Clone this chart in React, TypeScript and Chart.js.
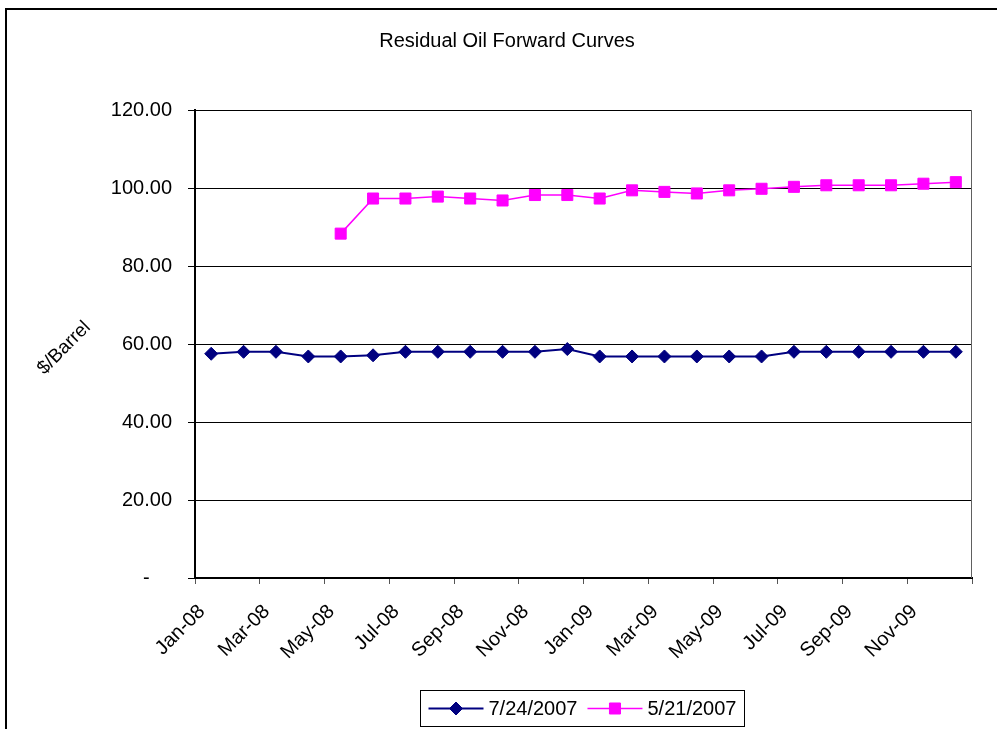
import React, { useEffect, useRef } from 'react';
import { Chart, registerables } from 'chart.js';

Chart.register(...registerables);

const TITLE = 'Residual Oil Forward Curves';
const Y_TITLE = '$/Barrel';

const months = [
  'Jan-08', 'Feb-08', 'Mar-08', 'Apr-08', 'May-08', 'Jun-08',
  'Jul-08', 'Aug-08', 'Sep-08', 'Oct-08', 'Nov-08', 'Dec-08',
  'Jan-09', 'Feb-09', 'Mar-09', 'Apr-09', 'May-09', 'Jun-09',
  'Jul-09', 'Aug-09', 'Sep-09', 'Oct-09', 'Nov-09', 'Dec-09',
];

const series1Label = '7/24/2007';
const series1 = [
  57.5, 58.0, 58.0, 56.8, 56.8, 57.1, 58.0, 58.0, 58.0, 58.0, 58.0, 58.7,
  56.8, 56.8, 56.8, 56.8, 56.8, 56.8, 58.0, 58.0, 58.0, 58.0, 58.0, 58.0,
];

const series2Label = '5/21/2007';
const series2: (number | null)[] = [
  null, null, null, null, 88.3, 97.3, 97.3, 97.8, 97.3, 96.8, 98.2, 98.2,
  97.3, 99.4, 99.0, 98.6, 99.4, 99.8, 100.3, 100.7, 100.7, 100.7, 101.1, 101.5,
];

const yTickValues = [0, 20, 40, 60, 80, 100, 120];
// x tick marks sit on month boundaries, every second month
const xTickMonthIndices = [0, 2, 4, 6, 8, 10, 12, 14, 16, 18, 20, 22, 24];

const FONT = '"Liberation Sans", Arial, Helvetica, sans-serif';

function drawMarker(ctx: CanvasRenderingContext2D, style: string, x: number, y: number, r: number, color: string) {
  ctx.save();
  ctx.fillStyle = color;
  ctx.strokeStyle = color;
  ctx.lineWidth = 1;
  ctx.beginPath();
  if (style === 'rectRot') {
    ctx.moveTo(x - r, y);
    ctx.lineTo(x, y - r);
    ctx.lineTo(x + r, y);
    ctx.lineTo(x, y + r);
    ctx.closePath();
  } else {
    const s = Math.SQRT1_2 * r;
    ctx.rect(x - s, y - s, 2 * s, 2 * s);
  }
  ctx.fill();
  ctx.stroke();
  ctx.restore();
}

const decorPlugin = {
  id: 'decor',
  beforeDraw(chart: any) {
    const ctx = chart.ctx as CanvasRenderingContext2D;
    ctx.save();
    ctx.fillStyle = '#ffffff';
    ctx.fillRect(0, 0, chart.width, chart.height);
    ctx.restore();
  },
  afterDraw(chart: any) {
    const ctx = chart.ctx as CanvasRenderingContext2D;
    const area = chart.chartArea;
    ctx.save();

    // outer chart frame (left and top edges visible)
    ctx.strokeStyle = '#000';
    ctx.lineWidth = 2;
    ctx.beginPath();
    ctx.moveTo(6, chart.height + 4);
    ctx.lineTo(6, 9);
    ctx.lineTo(997, 9);
    ctx.stroke();

    // plot area right border
    ctx.strokeStyle = '#606060';
    ctx.lineWidth = 1;
    ctx.beginPath();
    const rx = Math.round(area.right) - 0.5;
    ctx.moveTo(rx, area.top);
    ctx.lineTo(rx, area.bottom);
    ctx.stroke();

    // title
    ctx.fillStyle = '#000';
    ctx.font = `20px ${FONT}`;
    ctx.textAlign = 'center';
    ctx.textBaseline = 'middle';
    ctx.fillText(TITLE, 507, 41);

    // y-axis title, rotated diagonally
    ctx.save();
    ctx.translate(64, 348);
    ctx.rotate(-Math.PI / 4);
    ctx.font = `19px ${FONT}`;
    ctx.textAlign = 'center';
    ctx.textBaseline = 'middle';
    ctx.fillText(Y_TITLE, 0, 0);
    ctx.restore();

    // legend
    const datasets = chart.data.datasets;
    ctx.font = `20px ${FONT}`;
    const sample = 55;
    const gap = 5;
    const itemGap = 10;
    const pad = 8;
    const widths = datasets.map((d: any) => ctx.measureText(d.label).width);
    let total = pad * 2;
    widths.forEach((w: number, i: number) => {
      total += sample + gap + w + (i > 0 ? itemGap : 0);
    });
    const cx = 582;
    const boxTop = 690.5;
    const boxH = 36;
    const left = Math.round(cx - total / 2) + 0.5;
    ctx.strokeStyle = '#000';
    ctx.lineWidth = 1;
    ctx.strokeRect(left, boxTop, Math.round(total), boxH);
    const cy = boxTop + boxH / 2;
    let x = left + pad;
    datasets.forEach((d: any, i: number) => {
      if (i > 0) x += itemGap;
      ctx.strokeStyle = d.borderColor;
      ctx.lineWidth = d.borderWidth;
      ctx.beginPath();
      ctx.moveTo(x, cy);
      ctx.lineTo(x + sample, cy);
      ctx.stroke();
      drawMarker(ctx, d.pointStyle, x + sample / 2, cy, d.pointRadius, d.pointBackgroundColor);
      x += sample + gap;
      ctx.fillStyle = '#000';
      ctx.textAlign = 'left';
      ctx.textBaseline = 'middle';
      ctx.fillText(d.label, x, cy + 1);
      x += widths[i];
    });

    ctx.restore();
  },
};

export default function App() {
  const canvasRef = useRef<HTMLCanvasElement | null>(null);

  useEffect(() => {
    document.body.style.margin = '0';
    const canvas = canvasRef.current;
    if (!canvas) return;

    const d1 = months.map((_, i) => ({ x: i, y: series1[i] }));
    const d2 = months.map((_, i) => ({ x: i, y: series2[i] }));

    const chart = new Chart(canvas, {
      type: 'line',
      data: {
        datasets: [
          {
            label: series1Label,
            data: d1,
            borderColor: '#000080',
            backgroundColor: '#000080',
            pointBackgroundColor: '#000080',
            pointBorderColor: '#000080',
            borderWidth: 2,
            pointStyle: 'rectRot',
            pointRadius: 6.5,
            pointBorderWidth: 1,
            tension: 0,
            fill: false,
          },
          {
            label: series2Label,
            data: d2,
            borderColor: '#FF00FF',
            backgroundColor: '#FF00FF',
            pointBackgroundColor: '#FF00FF',
            pointBorderColor: '#FF00FF',
            borderWidth: 1.5,
            pointStyle: 'rect',
            pointRadius: 7.8,
            pointBorderWidth: 1,
            tension: 0,
            fill: false,
          },
        ] as any,
      },
      options: {
        responsive: false,
        maintainAspectRatio: false,
        animation: false,
        events: [],
        layout: { padding: { left: 0, top: 110, right: 26, bottom: 0 } },
        font: { family: FONT, size: 20 },
        color: '#000',
        plugins: {
          legend: { display: false },
          title: { display: false },
          tooltip: { enabled: false },
        },
        scales: {
          x: {
            type: 'linear',
            min: -0.5,
            max: 23.5,
            afterBuildTicks: (scale: any) => {
              scale.ticks = xTickMonthIndices.map((m) => ({ value: m - 0.5 }));
            },
            afterFit: (scale: any) => {
              scale.height = 151;
              scale.paddingLeft = 0;
              scale.paddingRight = 0;
            },
            ticks: {
              autoSkip: false,
              minRotation: 45,
              maxRotation: 45,
              padding: 16,
              labelOffset: 7,
              color: '#000',
              font: { family: FONT, size: 20 },
              callback: (value: any) => {
                const idx = Math.round(Number(value) + 0.5);
                return idx < months.length ? months[idx] : '';
              },
            },
            grid: {
              drawOnChartArea: false,
              drawTicks: true,
              tickLength: 6,
              color: '#555',
              lineWidth: 1,
            },
            border: { display: true, color: '#000', width: 2 },
          },
          y: {
            type: 'linear',
            min: 0,
            max: 120,
            afterBuildTicks: (scale: any) => {
              scale.ticks = yTickValues.map((v) => ({ value: v }));
            },
            afterFit: (scale: any) => {
              scale.width = 195;
              scale.paddingTop = 0;
              scale.paddingBottom = 0;
            },
            ticks: {
              padding: 16,
              color: '#000',
              font: { family: FONT, size: 20 },
              callback: (value: any) => {
                const v = Number(value);
                return v === 0 ? '-    ' : v.toFixed(2);
              },
            },
            grid: {
              color: '#000',
              lineWidth: 1,
              tickLength: 7,
            },
            border: { display: true, color: '#000', width: 2 },
          },
        },
      } as any,
      plugins: [decorPlugin],
    });

    return () => {
      chart.destroy();
    };
  }, []);

  return (
    <div style={{ width: 998, height: 729, position: 'relative' }}>
      <canvas ref={canvasRef} width={998} height={729} style={{ display: 'block' }} />
    </div>
  );
}
